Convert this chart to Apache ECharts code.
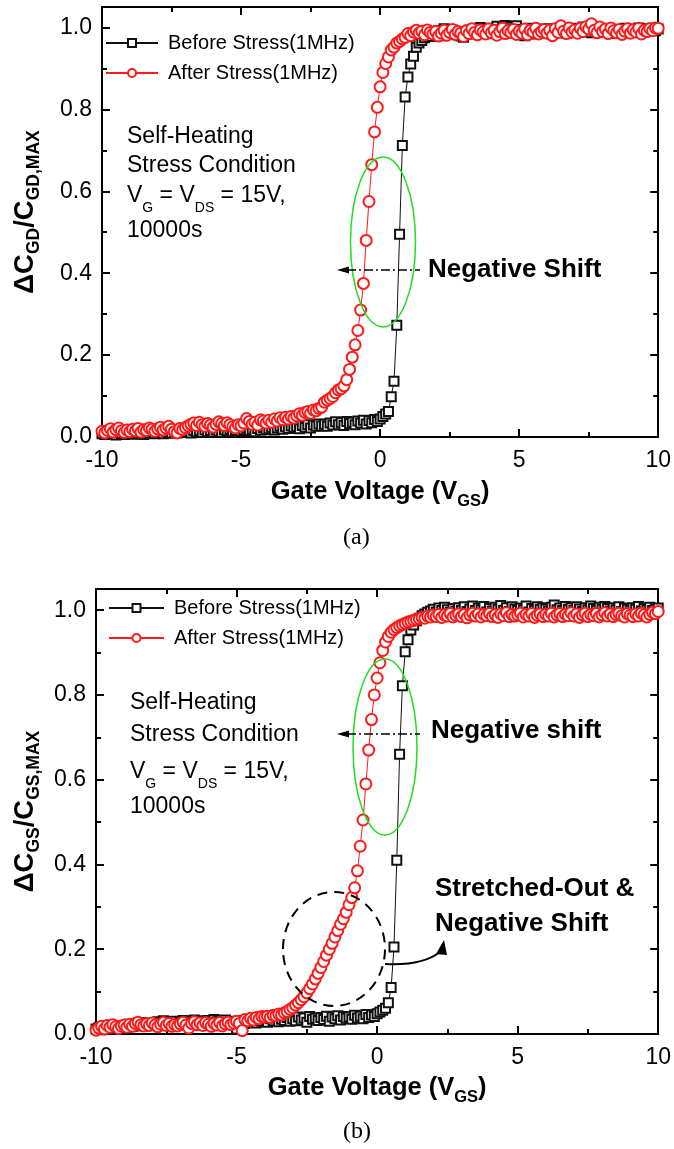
<!DOCTYPE html>
<html>
<head>
<meta charset="utf-8">
<script src="https://cdn.jsdelivr.net/npm/echarts@6/dist/echarts.min.js"></script>
<style>
  html, body { margin: 0; padding: 0; background: #fff; }
  #chart { width: 674px; height: 1149px; }
</style>
</head>
<body>
<div id="chart"></div>
<script>
// gate voltage sweep (V), shared by all four curves
const vgs = [
  -10, -9.9, -9.8, -9.7, -9.6, -9.5, -9.4, -9.3, -9.2, -9.1,
  -9, -8.9, -8.8, -8.7, -8.6, -8.5, -8.4, -8.3, -8.2, -8.1,
  -8, -7.9, -7.8, -7.7, -7.6, -7.5, -7.4, -7.3, -7.2, -7.1,
  -7, -6.9, -6.8, -6.7, -6.6, -6.5, -6.4, -6.3, -6.2, -6.1,
  -6, -5.9, -5.8, -5.7, -5.6, -5.5, -5.4, -5.3, -5.2, -5.1,
  -5, -4.9, -4.8, -4.7, -4.6, -4.5, -4.4, -4.3, -4.2, -4.1,
  -4, -3.9, -3.8, -3.7, -3.6, -3.5, -3.4, -3.3, -3.2, -3.1,
  -3, -2.9, -2.8, -2.7, -2.6, -2.5, -2.4, -2.3, -2.2, -2.1,
  -2, -1.9, -1.8, -1.7, -1.6, -1.5, -1.4, -1.3, -1.2, -1.1,
  -1, -0.9, -0.8, -0.7, -0.6, -0.5, -0.4, -0.3, -0.2, -0.1,
  0, 0.1, 0.2, 0.3, 0.4, 0.5, 0.6, 0.7, 0.8, 0.9,
  1, 1.1, 1.2, 1.3, 1.4, 1.5, 1.6, 1.7, 1.8, 1.9,
  2, 2.1, 2.2, 2.3, 2.4, 2.5, 2.6, 2.7, 2.8, 2.9,
  3, 3.1, 3.2, 3.3, 3.4, 3.5, 3.6, 3.7, 3.8, 3.9,
  4, 4.1, 4.2, 4.3, 4.4, 4.5, 4.6, 4.7, 4.8, 4.9,
  5, 5.1, 5.2, 5.3, 5.4, 5.5, 5.6, 5.7, 5.8, 5.9,
  6, 6.1, 6.2, 6.3, 6.4, 6.5, 6.6, 6.7, 6.8, 6.9,
  7, 7.1, 7.2, 7.3, 7.4, 7.5, 7.6, 7.7, 7.8, 7.9,
  8, 8.1, 8.2, 8.3, 8.4, 8.5, 8.6, 8.7, 8.8, 8.9,
  9, 9.1, 9.2, 9.3, 9.4, 9.5, 9.6, 9.7, 9.8, 9.9,
  10
];

// (a) normalised C_GD
const gdBefore = [
  0.008, 0.006, 0.010, 0.007, 0.009, 0.005, 0.011, 0.008, 0.006, 0.010,
  0.009, 0.007, 0.012, 0.008, 0.010, 0.006, 0.011, 0.009, 0.013, 0.008,
  0.010, 0.012, 0.008, 0.014, 0.011, 0.009, 0.013, 0.010, 0.015, 0.012,
  0.011, 0.014, 0.010, 0.016, 0.012, 0.015, 0.011, 0.017, 0.013, 0.016,
  0.012, 0.018, 0.014, 0.011, 0.017, 0.015, 0.019, 0.013, 0.016, 0.020,
  0.014, 0.018, 0.022, 0.016, 0.019, 0.013, 0.021, 0.017, 0.023, 0.018,
  0.020, 0.024, 0.017, 0.022, 0.026, 0.019, 0.025, 0.021, 0.027, 0.023,
  0.025, 0.020, 0.028, 0.024, 0.030, 0.022, 0.029, 0.026, 0.032, 0.027,
  0.031, 0.026, 0.034, 0.029, 0.037, 0.030, 0.035, 0.028, 0.038, 0.033,
  0.036, 0.030, 0.039, 0.034, 0.041, 0.032, 0.040, 0.035, 0.043, 0.038,
  0.044, 0.050, 0.056, 0.062, 0.098, 0.136, 0.273, 0.495, 0.712, 0.830,
  0.879, 0.911, 0.930, 0.952, 0.962, 0.968, 0.975, 0.981, 0.978, 0.988,
  0.985, 0.992, 0.980, 0.997, 0.988, 0.983, 0.994, 0.986, 0.990, 0.979,
  0.976, 0.988, 0.993, 0.984, 0.997, 0.989, 1.000, 0.987, 0.995, 0.991,
  0.998, 0.990, 1.003, 0.994, 0.999, 1.005, 0.992, 1.001, 0.996, 1.004,
  0.995, 0.987, 0.980, 0.991, 0.998, 0.984, 0.993, 0.989, 0.996, 0.986,
  0.990, 0.997, 0.985, 0.993, 0.988, 0.999, 0.991, 0.986, 0.995, 0.992,
  0.998, 0.989, 0.994, 1.001, 0.990, 0.996, 0.987, 0.993, 0.999, 0.991,
  0.994, 0.988, 0.997, 0.985, 0.992, 0.986, 0.995, 0.990, 0.998, 0.993,
  0.989, 0.996, 0.991, 0.999, 0.993, 0.997, 0.990, 0.995, 0.998, 0.992,
  0.996
];
const gdAfter = [
  0.014, 0.010, 0.016, 0.020, 0.012, 0.018, 0.022, 0.015, 0.011, 0.017,
  0.013, 0.019, 0.015, 0.021, 0.012, 0.018, 0.016, 0.022, 0.019, 0.014,
  0.020, 0.024, 0.017, 0.022, 0.026, 0.019, 0.013, 0.010, 0.021, 0.018,
  0.023, 0.027, 0.031, 0.034, 0.028, 0.036, 0.030, 0.026, 0.033, 0.029,
  0.024, 0.031, 0.037, 0.033, 0.028, 0.035, 0.030, 0.025, 0.022, 0.030,
  0.027, 0.034, 0.045, 0.038, 0.031, 0.036, 0.029, 0.042, 0.039, 0.034,
  0.041, 0.036, 0.044, 0.039, 0.047, 0.042, 0.048, 0.044, 0.050, 0.046,
  0.052, 0.057, 0.053, 0.060, 0.062, 0.058, 0.066, 0.064, 0.070, 0.073,
  0.085, 0.090, 0.094, 0.099, 0.108, 0.115, 0.118, 0.125, 0.140, 0.165,
  0.195, 0.225, 0.260, 0.310, 0.375, 0.480, 0.575, 0.665, 0.745, 0.805,
  0.855, 0.890, 0.912, 0.928, 0.945, 0.952, 0.962, 0.966, 0.972, 0.976,
  0.985, 0.980, 0.989, 0.993, 0.986, 0.991, 0.982, 0.994, 0.988, 0.984,
  0.990, 0.979, 0.986, 0.993, 0.981, 0.988, 0.995, 0.983, 0.990, 0.986,
  0.978, 0.992, 0.985, 0.997, 0.988, 0.982, 0.994, 0.989, 0.984, 0.996,
  0.987, 0.993, 0.981, 0.990, 0.998, 0.985, 0.992, 0.988, 0.995, 0.983,
  0.991, 0.986, 0.996, 0.982, 0.993, 0.989, 0.998, 0.984, 0.990, 0.995,
  0.986, 0.993, 0.980, 0.997, 0.988, 1.004, 0.991, 0.985, 0.999, 0.989,
  0.994, 0.986, 0.998, 0.990, 1.002, 0.996, 1.009, 0.993, 0.987, 1.001,
  0.990, 0.996, 0.985, 0.999, 0.992, 0.987, 0.995, 0.983, 0.991, 0.997,
  0.986, 0.994, 0.989, 0.998, 0.984, 0.993, 0.990, 0.997, 0.992, 0.999,
  0.998
];

// (b) normalised C_GS
const gsBefore = [
  0.012, 0.015, 0.010, 0.018, 0.014, 0.016, 0.011, 0.019, 0.015, 0.017,
  0.020, 0.016, 0.023, 0.018, 0.025, 0.021, 0.027, 0.019, 0.024, 0.022,
  0.026, 0.021, 0.029, 0.024, 0.031, 0.023, 0.028, 0.025, 0.030, 0.022,
  0.027, 0.032, 0.024, 0.030, 0.026, 0.033, 0.028, 0.031, 0.025, 0.029,
  0.032, 0.027, 0.034, 0.029, 0.031, 0.026, 0.033, 0.028, 0.030, 0.024,
  0.012, 0.027, 0.031, 0.025, 0.033, 0.029, 0.035, 0.026, 0.032, 0.030,
  0.034, 0.028, 0.036, 0.031, 0.038, 0.029, 0.035, 0.032, 0.039, 0.030,
  0.036, 0.031, 0.040, 0.033, 0.038, 0.028, 0.041, 0.035, 0.037, 0.032,
  0.039, 0.034, 0.042, 0.030, 0.040, 0.036, 0.043, 0.033, 0.041, 0.037,
  0.040, 0.035, 0.044, 0.038, 0.042, 0.036, 0.046, 0.039, 0.045, 0.041,
  0.048, 0.052, 0.056, 0.061, 0.074, 0.110, 0.205, 0.410, 0.660, 0.822,
  0.902, 0.930, 0.953, 0.965, 0.975, 0.981, 0.987, 0.991, 0.995, 0.998,
  1.002, 0.996, 1.005, 0.999, 1.007, 1.001, 0.995, 1.004, 0.998, 1.006,
  1.000, 1.008, 0.997, 1.003, 1.010, 0.999, 1.005, 1.001, 1.009, 0.996,
  1.004, 0.998, 1.007, 1.002, 1.011, 1.000, 1.006, 0.997, 1.008, 1.003,
  0.999, 1.005, 1.001, 1.010, 0.996, 1.004, 1.000, 1.008, 1.002, 1.006,
  1.003, 0.998, 1.007, 1.012, 1.001, 1.005, 0.999, 1.009, 1.002, 1.006,
  1.000, 1.008, 1.003, 0.997, 1.006, 1.001, 1.010, 1.004, 0.999, 1.007,
  1.002, 1.009, 1.004, 0.998, 1.006, 1.001, 1.008, 0.997, 1.005, 1.003,
  1.000, 1.006, 1.002, 1.009, 0.998, 1.004, 1.001, 1.007, 0.999, 1.003,
  1.005
];
const gsAfter = [
  0.009, 0.014, 0.018, 0.012, 0.020, 0.016, 0.022, 0.017, 0.013, 0.019,
  0.021, 0.016, 0.023, 0.018, 0.025, 0.028, 0.022, 0.019, 0.024, 0.020,
  0.026, 0.021, 0.017, 0.023, 0.027, 0.020, 0.025, 0.018, 0.022, 0.019,
  0.024, 0.028, 0.021, 0.014, 0.025, 0.029, 0.022, 0.026, 0.020, 0.027,
  0.023, 0.018, 0.025, 0.021, 0.027, 0.019, 0.024, 0.028, 0.022, 0.026,
  0.030, 0.025, 0.008, 0.034, 0.031, 0.037, 0.033, 0.039, 0.036, 0.041,
  0.040, 0.042, 0.039, 0.044, 0.043, 0.047, 0.045, 0.050, 0.053, 0.058,
  0.062, 0.068, 0.074, 0.081, 0.088, 0.097, 0.107, 0.118, 0.130, 0.143,
  0.157, 0.171, 0.186, 0.200, 0.214, 0.229, 0.244, 0.259, 0.272, 0.287,
  0.305, 0.322, 0.345, 0.385, 0.443, 0.505, 0.590, 0.670, 0.742, 0.800,
  0.840, 0.876, 0.905, 0.925, 0.938, 0.948, 0.954, 0.959, 0.963, 0.966,
  0.969, 0.972, 0.974, 0.976, 0.978, 0.980, 0.983, 0.981, 0.986, 0.984,
  0.988, 0.985, 0.990, 0.983, 0.989, 0.986, 0.992, 0.984, 0.988, 0.991,
  0.985, 0.990, 0.982, 0.989, 0.993, 0.986, 0.991, 0.984, 0.990, 0.987,
  0.992, 0.985, 0.989, 0.983, 0.991, 0.987, 0.994, 0.985, 0.990, 0.986,
  0.989, 0.993, 0.984, 0.990, 0.986, 0.992, 0.983, 0.988, 0.991, 0.985,
  0.990, 0.986, 0.993, 0.984, 0.989, 0.992, 0.985, 0.990, 0.987, 0.994,
  0.986, 0.991, 0.983, 0.989, 0.993, 0.985, 0.990, 0.987, 0.992, 0.984,
  0.989, 0.994, 0.986, 0.991, 0.985, 0.990, 0.993, 0.987, 0.984, 0.992,
  0.988, 0.985, 0.991, 0.986, 0.993, 0.989, 0.984, 0.990, 0.995, 0.992,
  0.997
];

const seriesNames = ['Before Stress(1MHz)', 'After Stress(1MHz)'];
const X_MIN = -10, X_MAX = 10, X_STEP = 5;
const Y_MIN = 0, Y_MAX = 1.05, Y_STEP = 0.2;

const FONT = '"Liberation Sans", Arial, sans-serif';
const BLACK = '#111';
const RED = '#ff1a1a';
const GREEN = '#22dd22';

const chart = echarts.init(document.getElementById('chart'));

const pairs = (ys) => vgs.map((v, i) => [v, ys[i]]);

const tickStyle = { color: '#000', width: 2 };

function titleRich(main, sub) {
  return {
    b: { fontFamily: FONT, fontSize: main, fontWeight: 'bold', color: '#000', lineHeight: 36 },
    s: { fontFamily: FONT, fontSize: sub, fontWeight: 'bold', color: '#000', lineHeight: 12, verticalAlign: 'bottom' }
  };
}

function xAxis(grid, top, gap) {
  return {
    type: 'value', gridIndex: grid, position: top ? 'top' : 'bottom',
    min: X_MIN, max: X_MAX, interval: X_STEP,
    name: top ? '' : '{b|Gate Voltage (V}{s|GS}{b|)}',
    nameLocation: 'middle', nameGap: gap,
    nameTextStyle: { rich: titleRich(25.5, 16.5) },
    axisLine: { onZero: false, lineStyle: tickStyle },
    axisTick: { inside: true, length: 8, lineStyle: tickStyle },
    minorTick: { show: true, splitNumber: 2, length: 5, lineStyle: tickStyle },
    splitLine: { show: false },
    axisLabel: { show: !top, margin: 12, fontFamily: FONT, fontSize: 23, color: '#000' }
  };
}

function yAxis(grid, right, name, gap, shift) {
  return {
    type: 'value', gridIndex: grid, position: right ? 'right' : 'left',
    min: Y_MIN, max: Y_MAX, interval: Y_STEP,
    name: right ? '' : name,
    nameLocation: 'middle', nameGap: gap,
    nameTextStyle: { rich: titleRich(27.5, 17.5), padding: [0, 0, 0, shift || 0] },
    axisLine: { onZero: false, lineStyle: tickStyle },
    axisTick: { inside: true, length: 8, lineStyle: tickStyle },
    minorTick: { show: true, splitNumber: 2, length: 5, lineStyle: tickStyle },
    splitLine: { show: false },
    axisLabel: {
      show: !right, margin: 10, fontFamily: FONT, fontSize: 23, color: '#000',
      showMaxLabel: false,
      formatter: (v) => v.toFixed(1)
    }
  };
}

function curve(name, ys, ax, ay, after) {
  return {
    name, type: 'line', xAxisIndex: ax, yAxisIndex: ay,
    data: pairs(ys),
    symbol: after ? 'emptyCircle' : 'emptyRect',
    symbolSize: after ? 11 : 9,
    lineStyle: { color: after ? RED : BLACK, width: 1 },
    itemStyle: { color: after ? RED : BLACK, borderWidth: 1 },
    z: after ? 4 : 3,
    animation: false
  };
}

function legend(left, top, width) {
  return {
    left, top, orient: 'vertical', padding: 0, itemGap: 0,
    itemWidth: width, itemHeight: 10, selectedMode: false,
    data: seriesNames,
    textStyle: { fontFamily: FONT, fontSize: 20, color: '#000', lineHeight: 30, padding: [0, 0, 0, 5] }
  };
}

// annotation helpers (pixel positions in the page)
const txtRich = {
  m: { fontFamily: FONT, fontSize: 23, color: '#000', lineHeight: 38 },
  s: { fontFamily: FONT, fontSize: 14, color: '#000', lineHeight: 12, verticalAlign: 'bottom' }
};
function text(x, y, str, size, bold, family) {
  return {
    type: 'text', x, y, z: 50, silent: true,
    style: {
      text: str, fill: '#000', align: 'left', verticalAlign: 'middle',
      font: (bold ? 'bold ' : '') + size + 'px ' + (family || FONT)
    }
  };
}
function richText(x, y, str) {
  return {
    type: 'text', x, y, z: 50, silent: true,
    style: { text: str, rich: txtRich, align: 'left', verticalAlign: 'middle', font: '23px ' + FONT }
  };
}
function ellipse(cx, cy, rx, ry, color, width, dash) {
  return {
    type: 'ellipse', z: 40, silent: true,
    shape: { cx, cy, rx, ry },
    style: { fill: 'none', stroke: color, lineWidth: width, lineDash: dash || null }
  };
}
function leftArrow(x1, x2, y) {
  return [
    { type: 'line', z: 41, silent: true, shape: { x1: x1 + 10, y1: y, x2, y2: y },
      style: { stroke: '#000', lineWidth: 1.3, lineDash: [9, 3, 2, 3] } },
    { type: 'polygon', z: 41, silent: true,
      shape: { points: [[x1, y], [x1 + 12, y - 3.5], [x1 + 12, y + 3.5]] },
      style: { fill: '#000' } }
  ];
}

const vgLine = '{m|V}{s|G}{m| = V}{s|DS}{m| = 15V,}';

const graphics = [
  // (a)
  text(127, 137, 'Self-Heating', 23),
  text(127, 166, 'Stress Condition', 23),
  richText(127, 196, vgLine),
  text(127, 231, '10000s', 23),
  text(428, 270, 'Negative Shift', 26, true),
  ellipse(383, 242, 32.5, 85, GREEN, 1.5),
  ...leftArrow(337, 420, 270),
  text(343, 538, '(a)', 24, false, '"Liberation Serif", "Times New Roman", serif'),
  // (b)
  text(130, 703, 'Self-Heating', 23),
  text(130, 735, 'Stress Condition', 23),
  richText(130, 772, vgLine),
  text(130, 807, '10000s', 23),
  text(431, 731, 'Negative shift', 26, true),
  ellipse(385, 747, 32, 88, GREEN, 1.5),
  ...leftArrow(337, 420, 734),
  ellipse(334, 949, 51, 57, '#000', 2, [10, 7]),
  text(435, 889, 'Stretched-Out &', 26, true),
  text(435, 924, 'Negative Shift', 26, true),
  { type: 'bezierCurve', z: 41, silent: true,
    shape: { x1: 385, y1: 964, cpx1: 422, cpy1: 966, x2: 440, y2: 952 },
    style: { stroke: '#000', lineWidth: 2, fill: 'none' } },
  { type: 'polygon', z: 41, silent: true,
    shape: { points: [[444, 940], [436, 954], [447, 955]] },
    style: { fill: '#000' } },
  text(343, 1132, '(b)', 24, false, '"Liberation Serif", "Times New Roman", serif')
];

chart.setOption({
  animation: false,
  backgroundColor: '#fff',
  grid: [
    { left: 102, right: 13, top: 7, height: 430 },
    { left: 96, right: 13, top: 589, height: 445 }
  ],
  legend: [legend(105, 28, 52), legend(108, 593, 55)],
  xAxis: [xAxis(0, false, 36.5), xAxis(0, true, 0), xAxis(1, false, 35.5), xAxis(1, true, 0)],
  yAxis: [
    yAxis(0, false, '{b|ΔC}{s|GD}{b|/C}{s|GD,MAX}', 59, 20),
    yAxis(0, true, '', 0),
    yAxis(1, false, '{b|ΔC}{s|GS}{b|/C}{s|GS,MAX}', 53, 0),
    yAxis(1, true, '', 0)
  ],
  series: [
    curve(seriesNames[0], gdBefore, 0, 0, false),
    curve(seriesNames[1], gdAfter, 0, 0, true),
    curve(seriesNames[0], gsBefore, 2, 2, false),
    curve(seriesNames[1], gsAfter, 2, 2, true)
  ],
  graphic: graphics
});
</script>
</body>
</html>
